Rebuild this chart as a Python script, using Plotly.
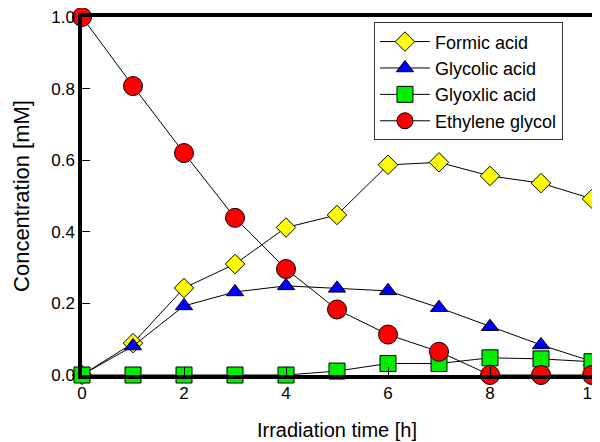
import plotly.graph_objects as go

time_h = [0, 1, 2, 3, 4, 5, 6, 7, 8, 9, 10]
formic_acid = [0.0, 0.089, 0.243, 0.31, 0.412, 0.447, 0.587, 0.594, 0.556, 0.536, 0.492]
glycolic_acid = [0.0, 0.081, 0.193, 0.232, 0.249, 0.242, 0.235, 0.188, 0.135, 0.084, 0.038]
glyoxlic_acid = [0.0, 0.0, 0.0, 0.0, 0.0, 0.011, 0.032, 0.032, 0.048, 0.045, 0.037]
ethylene_glycol = [1.0, 0.807, 0.62, 0.439, 0.296, 0.183, 0.113, 0.065, 0.0, 0.0, 0.0]

series = [
    ("Formic acid", formic_acid, "diamond", "#ffff00", 15),
    ("Glycolic acid", glycolic_acid, "triangle-up", "#0000ff", 15),
    ("Glyoxlic acid", glyoxlic_acid, "square", "#00ee00", 16),
    ("Ethylene glycol", ethylene_glycol, "circle", "#ff0000", 19),
]

fig = go.Figure()
for name, vals, sym, col, sz in series:
    fig.add_trace(go.Scatter(
        x=time_h, y=vals, name=name, mode="lines+markers",
        line=dict(color="black", width=1),
        marker=dict(symbol=sym, color=col, size=sz, line=dict(color="black", width=1)),
        cliponaxis=False,
    ))

font_family = "Liberation Sans, Arial, sans-serif"
fig.update_layout(
    width=592, height=434,
    margin=dict(l=74, r=8, t=9, b=67),
    paper_bgcolor="white", plot_bgcolor="white",
    font=dict(family=font_family, size=17, color="black"),
    showlegend=True,
    legend=dict(
        x=0.5725, y=0.985, xanchor="left", yanchor="top",
        bordercolor="#333", borderwidth=1, bgcolor="white",
        font=dict(size=18, color="black"),
        itemsizing="trace", itemwidth=50,
    ),
    xaxis=dict(
        range=[0, 10], tickvals=[0, 2, 4, 6, 8, 10],
        showline=True, linecolor="black", linewidth=3.5, mirror=True,
        ticks="inside", ticklen=8, tickwidth=1, tickcolor="black",
        showgrid=False, zeroline=False, automargin=False,
        ticklabeloverflow="allow",
        title=dict(text="Irradiation time [h]", font=dict(size=20), standoff=22),
        tickfont=dict(size=17),
    ),
    yaxis=dict(
        range=[0, 1.0], tickvals=[0, 0.2, 0.4, 0.6, 0.8, 1.0], tickformat=".1f",
        showline=True, linecolor="black", linewidth=3.5, mirror=True,
        ticks="inside", ticklen=8, tickwidth=1, tickcolor="black",
        showgrid=False, zeroline=False, automargin=False,
        ticklabeloverflow="allow",
        title=dict(text="Concentration [mM]", font=dict(size=22), standoff=17),
        tickfont=dict(size=17),
    ),
)

fig.write_html("out.html")
